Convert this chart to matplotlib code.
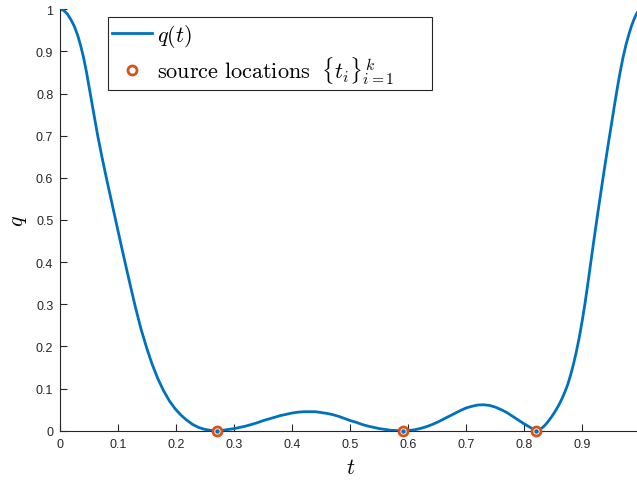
import numpy as np
import matplotlib
matplotlib.use("Agg")
import matplotlib.pyplot as plt

plt.rcParams['mathtext.fontset'] = 'cm'
plt.rcParams['font.family'] = ['Liberation Sans', 'DejaVu Sans']

# curve q(t)
t_vals = [0.000, 0.006, 0.012, 0.018, 0.024, 0.030, 0.035, 0.040, 0.045, 0.051,
          0.058, 0.0645, 0.072, 0.080, 0.088, 0.096, 0.104, 0.113, 0.121, 0.129,
          0.139, 0.149, 0.158, 0.168, 0.178, 0.188, 0.198, 0.208, 0.218, 0.228,
          0.238, 0.248, 0.258, 0.270,
          0.280, 0.290, 0.300, 0.310, 0.320, 0.330, 0.340, 0.350, 0.360, 0.370,
          0.380, 0.390, 0.400, 0.410, 0.420, 0.430, 0.440, 0.450, 0.460, 0.470,
          0.480, 0.490, 0.500, 0.510, 0.520, 0.530, 0.540, 0.550, 0.560, 0.570,
          0.580, 0.590,
          0.600, 0.610, 0.620, 0.630, 0.640, 0.650, 0.660, 0.670, 0.680, 0.690,
          0.700, 0.710, 0.720, 0.730, 0.740, 0.750, 0.760, 0.770, 0.780, 0.790,
          0.800, 0.810, 0.815, 0.820,
          0.825, 0.830, 0.835, 0.840, 0.845, 0.850, 0.855, 0.860, 0.865, 0.870,
          0.875, 0.880, 0.885, 0.890, 0.895, 0.900, 0.905, 0.910, 0.915, 0.920,
          0.925, 0.930, 0.935, 0.940, 0.945, 0.950, 0.955, 0.960, 0.965, 0.970,
          0.975, 0.980, 0.985, 0.990, 0.995, 1.000]
q_vals = [1.000, 0.997, 0.989, 0.976, 0.960, 0.938, 0.914, 0.886, 0.852, 0.805,
          0.750, 0.700, 0.648, 0.596, 0.546, 0.496, 0.446, 0.391, 0.343, 0.296,
          0.242, 0.196, 0.159, 0.124, 0.095, 0.071, 0.052, 0.037, 0.025, 0.015,
          0.008, 0.0035, 0.001, 0.000,
          0.001, 0.003, 0.005, 0.008, 0.011, 0.015, 0.019, 0.024, 0.028, 0.032,
          0.036, 0.039, 0.042, 0.044, 0.045, 0.045, 0.045, 0.043, 0.041, 0.038,
          0.034, 0.029, 0.024, 0.020, 0.015, 0.011, 0.008, 0.005, 0.003, 0.001,
          0.0003, 0.000,
          0.0005, 0.002, 0.005, 0.009, 0.014, 0.020, 0.027, 0.034, 0.041, 0.048,
          0.054, 0.058, 0.061, 0.0615, 0.060, 0.056, 0.050, 0.043, 0.034, 0.025,
          0.016, 0.008, 0.004, 0.000,
          0.002, 0.006, 0.012, 0.020, 0.029, 0.039, 0.050, 0.062, 0.076, 0.092,
          0.110, 0.133, 0.159, 0.189, 0.223, 0.262, 0.305, 0.353, 0.403, 0.452,
          0.500, 0.547, 0.593, 0.638, 0.682, 0.725, 0.768, 0.810, 0.849, 0.884,
          0.914, 0.939, 0.961, 0.979, 0.993, 1.000]

# source locations
src_t = [0.27, 0.59, 0.82]
src_q = [0.0, 0.0, 0.0]

xticks = [0, 0.1, 0.2, 0.3, 0.4, 0.5, 0.6, 0.7, 0.8, 0.9, 1]
xlabels = ['0', '0.1', '0.2', '0.3', '0.4', '0.5', '0.6', '0.7', '0.8', '0.9', '']
yticks = [0, 0.1, 0.2, 0.3, 0.4, 0.5, 0.6, 0.7, 0.8, 0.9, 1]
ylabels = ['0', '0.1', '0.2', '0.3', '0.4', '0.5', '0.6', '0.7', '0.8', '0.9', '1']

blue = '#0072BD'
orange = '#D95319'
dark = '#262626'

fig = plt.figure(figsize=(6.37, 4.81), dpi=100)
ax = fig.add_axes([60.3/637, 1 - 431.7/481, 580/637, 421.5/481])

ax.plot(t_vals, q_vals, color=blue, lw=2, label=r'$q(t)$', zorder=2)
ax.plot(src_t, src_q, 'o', ms=6.5, mfc='white', mec=orange, mew=2, ls='none',
        label=r'$\mathrm{source\ locations}\;\ \{t_i\}_{i=1}^{\,k}$' + '      ',
        zorder=3, clip_on=False)
ax.plot(src_t, src_q, 'o', ms=2.2, color=blue, ls='none', zorder=4, clip_on=False)

ax.set_xlim(0, 1)
ax.set_ylim(0, 1)
ax.set_xticks(xticks)
ax.set_yticks(yticks)
ax.set_xticklabels(xlabels)
ax.set_yticklabels(ylabels)
ax.tick_params(direction='in', length=5, width=0.8, color=dark, labelcolor=dark,
               labelsize=9, pad=5)
for s in ['top', 'right']:
    ax.spines[s].set_visible(False)
for s in ['left', 'bottom']:
    ax.spines[s].set_color(dark)
    ax.spines[s].set_linewidth(0.8)

ax.set_xlabel(r'$t$', fontsize=16, labelpad=5)
ax.set_ylabel(r'$q$', fontsize=16, labelpad=5)

leg = ax.legend(loc='upper left', bbox_to_anchor=(0.082, 0.981), borderaxespad=0,
                fontsize=16, handlelength=1.8, handletextpad=0.2, fancybox=False,
                framealpha=1, edgecolor=dark, borderpad=0.2, labelspacing=0.25)
leg.get_frame().set_linewidth(0.8)

fig.savefig('out.png', dpi=100)
